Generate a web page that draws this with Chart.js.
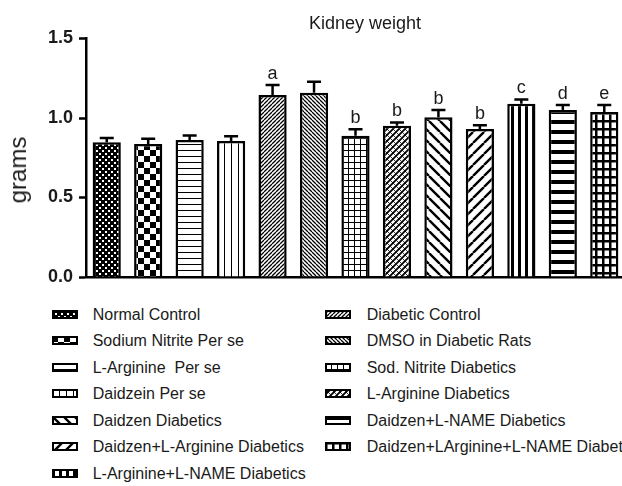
<!DOCTYPE html>
<html>
<head>
<meta charset="utf-8">
<script src="https://cdn.jsdelivr.net/npm/chart.js@4/dist/chart.umd.min.js"></script>
<style>
  html, body { margin: 0; padding: 0; background: #fff; width: 622px; height: 486px; overflow: hidden; }
  body { position: relative; font-family: "Liberation Sans", Arial, sans-serif; color: #1a1a1a; }
  #chart { position: absolute; left: 0; top: 0; }
  #title { position: absolute; left: 265px; width: 200px; top: 14px; text-align: center; font-size: 18px; line-height: 1; white-space: nowrap; }
  #ylabel { position: absolute; left: 18px; top: 170px; font-size: 24px; line-height: 1; white-space: nowrap;
            transform: translate(-50%, -50%) rotate(-90deg); }
  .sw { position: absolute; }
  .lt { position: absolute; font-size: 16px; line-height: 1; white-space: pre; }
</style>
</head>
<body>
<canvas id="chart" width="626" height="300"></canvas>
<div id="title">Kidney weight</div>
<div id="ylabel">grams</div>
<div id="legend"></div>
<script>
// Kidney weight per treatment group (mean ± SEM, grams)
const categories = [
  "Normal Control",
  "Sodium Nitrite Per se",
  "L-Arginine  Per se",
  "Daidzein Per se",
  "Diabetic Control",
  "DMSO in Diabetic Rats",
  "Sod. Nitrite Diabetics",
  "L-Arginine Diabetics",
  "Daidzen Diabetics",
  "Daidzen+L-Arginine Diabetics",
  "L-Arginine+L-NAME Diabetics",
  "Daidzen+L-NAME Diabetics",
  "Daidzen+LArginine+L-NAME Diabetics"
];
const meanWeight = [0.847, 0.836, 0.862, 0.855, 1.145, 1.159, 0.889, 0.952, 1.004, 0.931, 1.090, 1.050, 1.038];
const semWeight  = [0.028, 0.033, 0.028, 0.031, 0.062, 0.069, 0.041, 0.020, 0.046, 0.024, 0.027, 0.031, 0.043];
const sigLetters = ["", "", "", "", "a", "", "b", "b", "b", "b", "c", "d", "e"];
const yTicks = [0.0, 0.5, 1.0, 1.5];
// legend columns (indices into categories)
const legendLeft  = [0, 1, 2, 3, 8, 9, 10];
const legendRight = [4, 5, 6, 7, 11, 12];

const FONT = '"Liberation Sans", Arial, sans-serif';

// ---- hatch fills ----
function tile(w, h, draw) {
  const c = document.createElement('canvas');
  c.width = w; c.height = h;
  const g = c.getContext('2d');
  g.fillStyle = '#fff'; g.fillRect(0, 0, w, h);
  g.fillStyle = '#000'; g.strokeStyle = '#000';
  draw(g, w, h);
  return g.createPattern(c, 'repeat');
}
function diag(g, p, lw, dir) {
  g.lineWidth = lw;
  g.beginPath();
  for (let k = -1; k <= 1; k++) {
    if (dir > 0) { g.moveTo(k * p, p); g.lineTo(k * p + p, 0); }
    else { g.moveTo(k * p, 0); g.lineTo(k * p + p, p); }
  }
  g.stroke();
}
const fills = {
  dots:      () => tile(6, 6, g => { g.fillRect(0, 0, 6, 6); g.fillStyle = '#fff'; g.fillRect(0, 0, 2, 2); g.fillRect(3, 3, 2, 2); }),
  checker:   () => tile(12, 12, g => { g.fillRect(0, 0, 6, 6); g.fillRect(6, 6, 6, 6); }),
  hlines:    () => tile(4, 6, g => g.fillRect(0, 0, 4, 1)),
  vlines:    () => tile(7, 4, g => g.fillRect(0, 0, 1, 4)),
  fineFwd:   () => tile(4, 4, g => diag(g, 4, 1.3, 1)),
  fineBack:  () => tile(4, 4, g => diag(g, 4, 1.3, -1)),
  grid:      () => tile(6, 6, g => { g.fillRect(0, 0, 6, 1); g.fillRect(0, 0, 1, 6); }),
  crossFine: () => tile(6, 6, g => { diag(g, 6, 1.8, 1); diag(g, 6, 0.8, -1); }),
  wideBack:  () => tile(11, 11, g => diag(g, 11, 2.4, -1)),
  wideFwd:   () => tile(11, 11, g => diag(g, 11, 2.4, 1)),
  thickV:    () => tile(7, 4, g => g.fillRect(0, 0, 3, 4)),
  thickH:    () => tile(4, 10, g => g.fillRect(0, 0, 4, 4)),
  thickGrid: () => tile(7, 8, g => { g.fillRect(0, 0, 7, 2.5); g.fillRect(0, 0, 2.5, 8); })
};
const fillKeys = ['dots', 'checker', 'hlines', 'vlines', 'fineFwd', 'fineBack', 'grid',
                  'crossFine', 'wideBack', 'wideFwd', 'thickV', 'thickH', 'thickGrid'];
const barFills = fillKeys.map(k => fills[k]());

// ---- error bars and significance letters ----
const errorBars = {
  id: 'errorBars',
  afterDatasetsDraw(chart) {
    const { ctx, scales: { y } } = chart;
    const meta = chart.getDatasetMeta(0);
    ctx.save();
    ctx.strokeStyle = '#000';
    ctx.lineWidth = 2.5;
    meta.data.forEach((bar, i) => {
      const top = y.getPixelForValue(meanWeight[i] + semWeight[i]);
      ctx.beginPath();
      ctx.moveTo(bar.x, bar.y);
      ctx.lineTo(bar.x, top);
      ctx.moveTo(bar.x - 7, top);
      ctx.lineTo(bar.x + 7, top);
      ctx.stroke();
      if (sigLetters[i]) {
        ctx.fillStyle = '#1a1a1a';
        ctx.font = '18px ' + FONT;
        ctx.textAlign = 'center';
        ctx.textBaseline = 'alphabetic';
        ctx.fillText(sigLetters[i], bar.x, top - 6);
      }
    });
    ctx.restore();
  }
};

new Chart(document.getElementById('chart'), {
  type: 'bar',
  data: {
    labels: categories,
    datasets: [{
      data: meanWeight,
      backgroundColor: barFills,
      borderColor: '#000',
      borderWidth: 2.5,
      barPercentage: 0.68,
      categoryPercentage: 1
    }]
  },
  options: {
    responsive: false,
    animation: false,
    devicePixelRatio: 1,
    layout: { padding: { left: 0, right: 1, top: 38.5, bottom: 23 } },
    plugins: { legend: { display: false }, tooltip: { enabled: false }, title: { display: false } },
    scales: {
      x: {
        grid: { display: false, drawTicks: false },
        ticks: { display: false },
        border: { display: true, color: '#000', width: 2.5 }
      },
      y: {
        min: 0, max: 1.5,
        afterBuildTicks: s => { s.ticks = yTicks.map(v => ({ value: v })); },
        afterFit: s => { s.width = 86; },
        ticks: {
          callback: v => Number(v).toFixed(1),
          font: { family: FONT, size: 18, weight: 'bold' },
          color: '#1a1a1a',
          padding: 6
        },
        grid: { drawOnChartArea: false, tickLength: 7, tickWidth: 2.5, color: '#000' },
        border: { color: '#000', width: 2.5 }
      }
    }
  },
  plugins: [errorBars]
});

// ---- legend (two columns) ----
const legend = document.getElementById('legend');
function addItem(idx, row, swLeft, txtLeft) {
  const cy = 314.7 + 26.5 * row;
  const c = document.createElement('canvas');
  c.width = 26; c.height = 9;
  c.className = 'sw';
  c.style.left = swLeft + 'px';
  c.style.top = (cy - 5) + 'px';
  const g = c.getContext('2d');
  g.fillStyle = barFills[idx];
  g.fillRect(0, 0, 26, 9);
  g.strokeStyle = '#000';
  g.lineWidth = 2;
  g.strokeRect(1, 1, 24, 7);
  legend.appendChild(c);
  const t = document.createElement('div');
  t.className = 'lt';
  t.textContent = categories[idx];
  t.style.left = txtLeft + 'px';
  t.style.top = (cy - 7.8) + 'px';
  legend.appendChild(t);
}
legendLeft.forEach((idx, r) => addItem(idx, r, 52, 92.7));
legendRight.forEach((idx, r) => addItem(idx, r, 325, 366.7));
</script>
</body>
</html>
